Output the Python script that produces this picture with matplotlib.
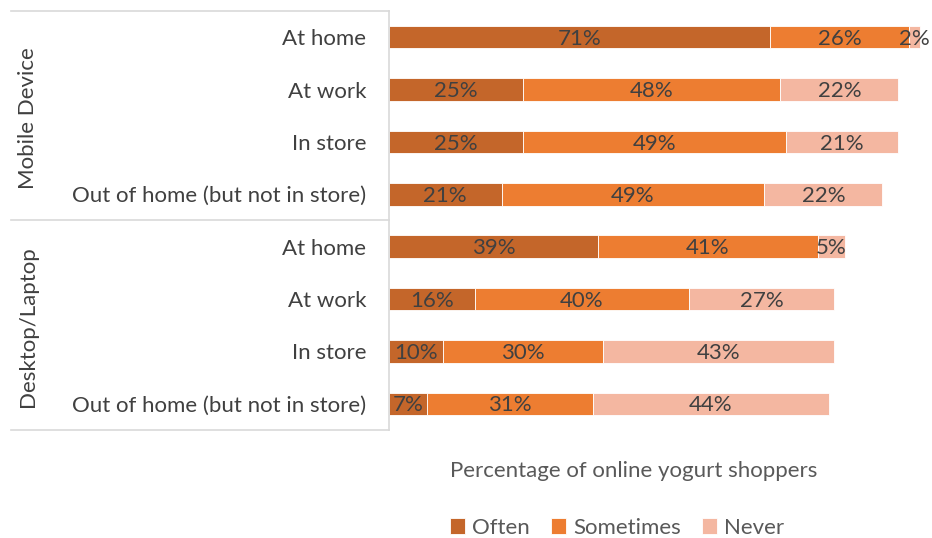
import matplotlib
matplotlib.use("Agg")
import matplotlib.pyplot as plt
from matplotlib.lines import Line2D
import numpy as np

plt.rcParams['font.family'] = ['Lato', 'DejaVu Sans']

# data
categories = ["At home", "At work", "In store", "Out of home (but not in store)",
              "At home", "At work", "In store", "Out of home (but not in store)"]
groups = ["Mobile Device", "Desktop/Laptop"]
often = [71, 25, 25, 21, 39, 16, 10, 7]
sometimes = [26, 48, 49, 49, 41, 40, 30, 31]
never = [2, 22, 21, 22, 5, 27, 43, 44]
series_names = ["Often", "Sometimes", "Never"]
colors = ["#C4662A", "#ED7D31", "#F4B7A1"]

W, H = 932, 538
fig = plt.figure(figsize=(W / 100, H / 100), dpi=100)
ax = fig.add_axes([389 / W, 1 - 430 / H, 540 / W, 419 / H])

y = np.arange(len(categories))
left = np.zeros(len(categories))
for vals, name, col in zip([often, sometimes, never], series_names, colors):
    bars = ax.barh(y, vals, left=left, height=0.43, color=col, label=name,
                   edgecolor="white", linewidth=0.6)
    for b, v in zip(bars, vals):
        ax.text(b.get_x() + b.get_width() / 2, b.get_y() + b.get_height() / 2 + 0.03,
                f"{v}%", ha="center", va="center", fontsize=16, color="#404040")
    left += np.array(vals)

ax.set_xlim(0, 100.7)
ax.set_ylim(7.5, -0.5)
ax.set_xticks([])
ax.set_yticks(y)
ax.set_yticklabels(categories, fontsize=16, color="#404040")
ax.tick_params(axis="y", length=0, pad=16.5)
for s in ["top", "right", "bottom"]:
    ax.spines[s].set_visible(False)
ax.spines["left"].set_color("#D9D9D9")
ax.spines["left"].set_linewidth(1.2)

# group table lines
for yy in [11, 220, 430]:
    fig.add_artist(Line2D([11 / W, 389 / W], [1 - yy / H, 1 - yy / H],
                          color="#D9D9D9", linewidth=1.2))

fig.text(28 / W, 1 - 118 / H, groups[0], rotation=90, ha="center", va="center",
         fontsize=16, color="#404040")
fig.text(28 / W, 1 - 327 / H, groups[1], rotation=90, ha="center", va="center",
         fontsize=16, color="#404040")

fig.text(634 / W, 1 - 471 / H, "Percentage of online yogurt shoppers",
         ha="center", va="center", fontsize=16, color="#595959")

fig.legend(loc="center", bbox_to_anchor=(617 / W, 1 - 528 / H), ncol=3,
           frameon=False, fontsize=16, handlelength=0.7, handleheight=0.7,
           handletextpad=0.3, columnspacing=0.95, labelcolor="#595959")

fig.savefig("out.png", dpi=100)
